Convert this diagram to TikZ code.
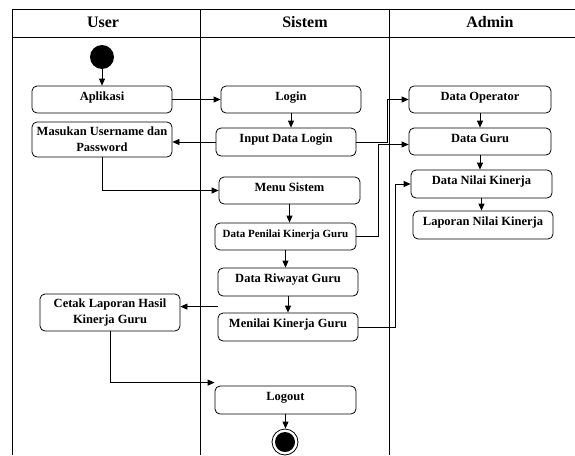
\documentclass[tikz,border=0pt]{standalone}
\usepackage{fontspec}
\setmainfont{Liberation Serif}
\usetikzlibrary{arrows.meta}

\begin{document}
\begin{tikzpicture}
[x=1pt,y=-1pt,line width=0.8pt,>={Triangle[length=7pt,width=6pt]},
 act/.style={draw,rounded corners=5pt,minimum width=140pt,minimum height=27pt,inner sep=1pt,
   align=center,font=\fontsize{12.5}{16}\selectfont\bfseries},
 one/.style={text height=8pt,text depth=7pt},
 lane/.style={font=\fontsize{16}{18}\selectfont\bfseries},
 startnode/.style={circle,fill=black,minimum size=24pt,inner sep=0pt},
 endnode/.style={circle,draw,minimum size=26pt,inner sep=0pt,
   path picture={\fill (path picture bounding box.center) circle (10pt);}}]
\useasboundingbox (0,0) rectangle (575,455);
% swimlanes
\draw (12,455) -- (12,9) -- (575,9);
\draw (12,37.5) -- (575,37.5);
\draw (200,9) -- (200,455);
\draw (389,9) -- (389,455);
\node[lane] (user) at (103,22.5) {User};
\node[lane] (sistem) at (305,22.5) {Sistem};
\node[lane] (admin) at (490,22.5) {Admin};
% user
\node[startnode] (start) at (102,57) {};
\node[act,one] (apl) at (102,99.5) {Aplikasi};
\node[act,minimum height=35pt] (masuk) at (102,139.5) {Masukan Username dan\\Password};
\node[act,minimum height=37pt] (cetak) at (110,312.5) {Cetak Laporan Hasil\\Kinerja Guru};
% sistem
\node[act,one] (login) at (291,99.5) {Login};
\node[act,one,minimum height=28pt] (input) at (286,142) {Input Data Login};
\node[act,one,minimum width=141pt] (menu) at (289.5,190.5) {Menu Sistem};
\node[act,one,minimum width=141pt,font=\fontsize{11}{13}\selectfont\bfseries] (penilai) at (285.5,236.5) {Data Penilai Kinerja Guru};
\node[act,one,minimum height=28pt] (riwayat) at (288,282) {Data Riwayat Guru};
\node[act,one,minimum height=28pt] (menilai) at (288,327) {Menilai Kinerja Guru};
\node[act,one,minimum width=141pt,minimum height=28pt] (logout) at (285.5,400) {Logout};
\node[endnode] (end) at (285,442) {};
% admin
\node[act,one,minimum width=142pt] (oper) at (480,99.5) {Data Operator};
\node[act,one,minimum width=142pt] (guru) at (480,141.5) {Data Guru};
\node[act,one,minimum width=141pt,minimum height=28pt] (nilai) at (481.5,184) {Data Nilai Kinerja};
\node[act,one,minimum height=28pt] (lapor) at (483,225) {Laporan Nilai Kinerja};
\coordinate (mk) at ([yshift=6pt]menilai.north west);
\coordinate (lg) at ([yshift=3pt]logout.north west);
% flows
\draw[->] (start) -- (apl);
\draw[->] (apl) -- (login);
\draw[->] (input.west) -- (input.west -| masuk.east);
\draw[->] (masuk.south) |- (menu.west);
\foreach \from/\to in {login/input,menu/penilai,penilai/riwayat,riwayat/menilai,oper/guru,guru/nilai,nilai/lapor,logout/end}
  \draw[->] (\from.south) -- (\from.south |- \to.north);
\draw[->] (input.east) -- ++(31,0) |- (oper.west);
\draw[->] (penilai.east) -- ++(22,0) |- ([yshift=-3pt]guru.west);
\draw[->] (menilai.east) -- ++(37,0) |- (nilai.west);
\draw[->] (mk) -- (mk -| cetak.east);
\draw[->] (cetak.south) |- (lg);
\end{tikzpicture}
\end{document}
